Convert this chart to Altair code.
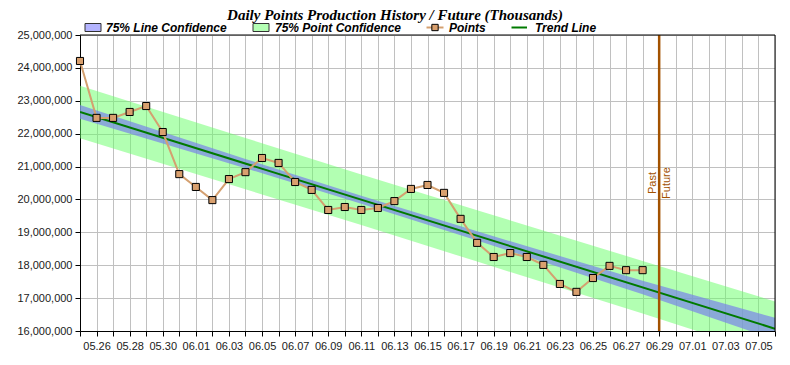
import altair as alt
import pandas as pd

YEAR = 2008

# ---- data ----
point_dates = ["05.25", "05.26", "05.27", "05.28", "05.29", "05.30", "05.31",
               "06.01", "06.02", "06.03", "06.04", "06.05", "06.06", "06.07",
               "06.08", "06.09", "06.10", "06.11", "06.12", "06.13", "06.14",
               "06.15", "06.16", "06.17", "06.18", "06.19", "06.20", "06.21",
               "06.22", "06.23", "06.24", "06.25", "06.26", "06.27", "06.28"]
point_values = [24.21e6, 22.48e6, 22.48e6, 22.66e6, 22.84e6, 22.05e6, 20.77e6,
                20.38e6, 19.98e6, 20.62e6, 20.83e6, 21.26e6, 21.11e6, 20.53e6,
                20.29e6, 19.68e6, 19.77e6, 19.68e6, 19.74e6, 19.95e6, 20.32e6,
                20.44e6, 20.20e6, 19.41e6, 18.68e6, 18.25e6, 18.37e6, 18.25e6,
                18.01e6, 17.43e6, 17.19e6, 17.61e6, 17.98e6, 17.85e6, 17.85e6]

trend_dates = ["05.25", "07.06"]
trend_values = [22.66e6, 16.07e6]

band_dates = ["05.25", "06.04", "06.11", "06.18", "06.28", "07.06"]
line_lo = [22.45e6, 20.95e6, 19.87e6, 18.75e6, 17.12e6, 15.74e6]
line_hi = [22.87e6, 21.23e6, 20.11e6, 19.03e6, 17.53e6, 16.40e6]
point_lo = [21.86e6, 20.31e6, 19.22e6, 18.11e6, 16.53e6, 15.24e6]
point_hi = [23.46e6, 21.87e6, 20.76e6, 19.67e6, 18.13e6, 16.90e6]

divider_date = ["06.29"]
divider_labels = ["Past", "Future"]

x_start, x_end = "05.25", "07.06"
y_ticks = [16e6, 17e6, 18e6, 19e6, 20e6, 21e6, 22e6, 23e6, 24e6, 25e6]

title_text = "Daily Points Production History / Future (Thousands)"
legend_labels = ["75% Line Confidence", "75% Point Confidence", "Points", "Trend Line"]


def iso(md):
    m, d = md.split(".")
    return f"{YEAR}-{m}-{d}"


def dt(md):
    m, d = md.split(".")
    return alt.DateTime(year=YEAR, month=int(m), date=int(d), utc=True)


pts = pd.DataFrame({"date": [iso(d) for d in point_dates], "v": point_values})
trend = pd.DataFrame({"date": [iso(d) for d in trend_dates], "v": trend_values})
band = pd.DataFrame({"date": [iso(d) for d in band_dates],
                     "llo": line_lo, "lhi": line_hi, "plo": point_lo, "phi": point_hi})
div = pd.DataFrame({"date": [iso(d) for d in divider_date]})
one = pd.DataFrame({"a": [0]})

W, H = 695, 296
FONT = "Liberation Sans"

m0, d0 = x_start.split(".")
label_expr = (f"(round((datum.value - utc({YEAR},{int(m0)-1},{int(d0)}))/864e5) % 2 == 1)"
              " ? utcFormat(datum.value, '%m.%d') : ''")

xscale = alt.Scale(type="utc", domain=[dt(x_start), dt(x_end)], nice=False)
yscale = alt.Scale(domain=[y_ticks[0], y_ticks[-1]], nice=False, zero=False)
xaxis = alt.Axis(title=None, tickCount=alt.TimeIntervalStep(interval="day", step=1),
                 labelExpr=label_expr, labelOverlap=False, labelFlush=False,
                 labelBound=False, labelPadding=4)
yaxis = alt.Axis(title=None, values=y_ticks, format=",d", labelPadding=3)


def X(field="date:T"):
    return alt.X(field, scale=xscale, axis=xaxis)


def Y(field):
    return alt.Y(field, scale=yscale, axis=yaxis)


green = alt.Chart(band).mark_area(color="#66ff66", opacity=0.5, clip=True).encode(
    x=X(), y=Y("plo:Q"), y2="phi:Q")
blue = alt.Chart(band).mark_area(color="#7985e8", opacity=0.7, clip=True).encode(
    x=X(), y=Y("llo:Q"), y2="lhi:Q")
trend_line = alt.Chart(trend).mark_line(color="#007a00", strokeWidth=2, clip=True).encode(
    x=X(), y=Y("v:Q"))
pts_line = alt.Chart(pts).mark_line(color="#d4a070", strokeWidth=2).encode(
    x=X(), y=Y("v:Q"))
pts_mark = alt.Chart(pts).mark_square(size=50, fill="#d9a06e", stroke="black",
                                      strokeWidth=1, opacity=1).encode(x=X(), y=Y("v:Q"))
divider = alt.Chart(div).mark_rule(color="#a35200", strokeWidth=2.5).encode(x=X())
past = alt.Chart(div).mark_text(angle=270, align="center", baseline="alphabetic", dy=-3,
                                color="#a35200", font=FONT, fontSize=11).encode(
    x=X(), y=alt.value(H / 2), text=alt.value(divider_labels[0]))
future = alt.Chart(div).mark_text(angle=270, align="center", baseline="top", dy=2,
                                  color="#a35200", font=FONT, fontSize=11).encode(
    x=X(), y=alt.value(H / 2), text=alt.value(divider_labels[1]))

frame_top = alt.Chart(one).mark_rule(color="black", strokeWidth=1).encode(y=alt.value(0))
frame_right = alt.Chart(one).mark_rule(color="black", strokeWidth=1).encode(x=alt.value(W))

title = alt.Chart(one).mark_text(font="Liberation Serif", fontSize=15, fontWeight="bold",
                                 fontStyle="italic", align="center", baseline="alphabetic",
                                 color="black").encode(
    x=alt.value(315), y=alt.value(-15.5), text=alt.value(title_text))

ly = -7.5
sw1 = alt.Chart(one).mark_rect(fill="#b4b4ff", stroke="#333", strokeWidth=1).encode(
    x=alt.value(5), x2=alt.value(21), y=alt.value(ly - 4), y2=alt.value(ly + 4))
sw2 = alt.Chart(one).mark_rect(fill="#b4ffb4", stroke="#333", strokeWidth=1).encode(
    x=alt.value(173), x2=alt.value(189), y=alt.value(ly - 4), y2=alt.value(ly + 4))
lg_pl = alt.Chart(one).mark_rule(color="#d4a070", strokeWidth=2).encode(
    x=alt.value(346.5), x2=alt.value(363.5), y=alt.value(ly))
lg_pm = alt.Chart(one).mark_square(size=40, fill="#d9a06e", stroke="black", strokeWidth=1,
                                   opacity=1).encode(x=alt.value(355), y=alt.value(ly))
lg_tl = alt.Chart(one).mark_rule(color="#007a00", strokeWidth=2).encode(
    x=alt.value(431.5), x2=alt.value(447), y=alt.value(ly))

legend_x = [26, 195, 369, 455]
lg_texts = [
    alt.Chart(one).mark_text(font=FONT, fontSize=12, fontWeight="bold", fontStyle="italic",
                             align="left", baseline="alphabetic", color="black").encode(
        x=alt.value(lx), y=alt.value(-3.5), text=alt.value(t))
    for lx, t in zip(legend_x, legend_labels)
]

chart = alt.layer(
    green, blue, trend_line, pts_line, pts_mark, divider, past, future,
    frame_top, frame_right, title, sw1, sw2, lg_pl, lg_pm, lg_tl, *lg_texts
).properties(
    width=W, height=H,
    padding={"left": 72, "top": 27, "right": 7, "bottom": 26},
    autosize=alt.AutoSizeParams(type="none"),
    background="white",
).configure_view(stroke=None).configure_axis(
    labelFont=FONT, labelFontSize=11, labelColor="#1a1a1a",
    domainColor="black", domainWidth=1, tickColor="black", tickSize=5,
    gridColor="#c0c0c0", gridWidth=1,
)

chart.save("out.html", embed_options={"renderer": "svg", "actions": False})
